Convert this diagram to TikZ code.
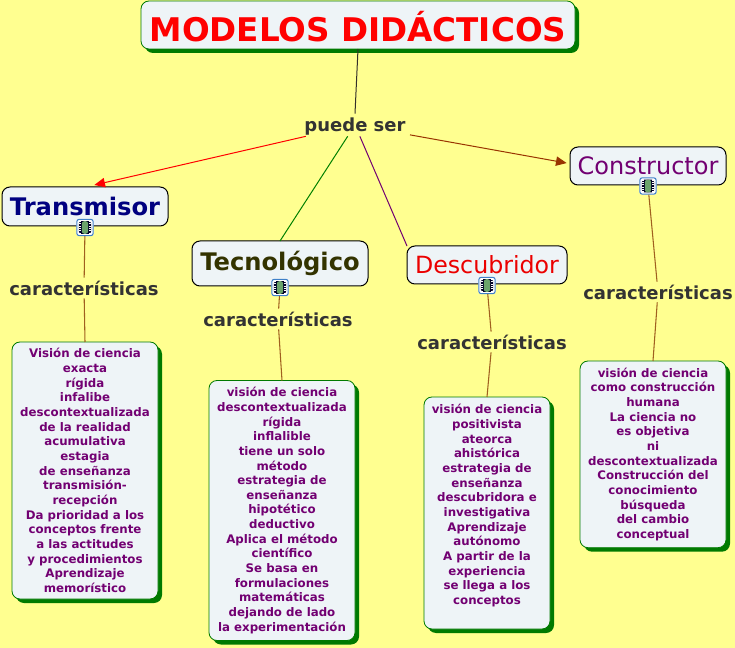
\documentclass[tikz,border=0pt]{standalone}
\usepackage{fontspec}
\setmainfont{DejaVu Sans}
\definecolor{bgc}{HTML}{FFFF90}
\definecolor{boxc}{HTML}{EEF4F7}
\definecolor{shadowg}{HTML}{007A00}
\definecolor{linkb}{HTML}{A0601F}
\definecolor{purp}{HTML}{720072}
\definecolor{lbl}{HTML}{333333}
\definecolor{filmg}{HTML}{6BA56B}
\definecolor{iconb}{HTML}{3F80C8}
\makeatletter
\newcommand{\fpx}[2]{\fontsize{\strip@pt\dimexpr#1pt*3/4\relax}{\strip@pt\dimexpr#2pt*3/4\relax}\selectfont}
\makeatother
\tikzset{
  every node/.style={inner sep=0pt,outer sep=0pt},
  px/.style={x=0.75pt,y=-0.75pt},
  head/.style={draw=black,line width=0.75pt,fill=boxc,rounded corners=6pt,anchor=center,align=center},
  shadowbox/.style={draw=shadowg,line width=0.6pt,fill=boxc,rounded corners=6pt,
     preaction={draw=none,fill=shadowg,rounded corners=6pt,transform canvas={xshift=3pt,yshift=-3pt}}},
  textbox/.style={shadowbox,anchor=north west,align=center,text=purp,font=\bfseries\fpx{11.8}{14.65}},
  linklabel/.style={text=lbl,font=\bfseries\fpx{18}{20},align=center},
  link/.style={line width=0.8pt,color=linkb},
  filmicon/.style={draw=none,minimum width=13pt,minimum height=13pt,rounded corners=2pt,
    fill=white,path picture={
      \fill[black!85!blue] ([xshift=-4.6pt,yshift=-4.8pt]path picture bounding box.center) rectangle ([xshift=4.6pt,yshift=4.8pt]path picture bounding box.center);
      \fill[filmg] ([xshift=-2.4pt,yshift=-4.8pt]path picture bounding box.center) rectangle ([xshift=2.4pt,yshift=4.8pt]path picture bounding box.center);
      \draw[white,line width=1.3pt,dash pattern=on 0.8pt off 1pt] ([xshift=-3.5pt,yshift=-4.8pt]path picture bounding box.center) -- ([xshift=-3.5pt,yshift=4.8pt]path picture bounding box.center);
      \draw[white,line width=1.3pt,dash pattern=on 0.8pt off 1pt] ([xshift=3.5pt,yshift=-4.8pt]path picture bounding box.center) -- ([xshift=3.5pt,yshift=4.8pt]path picture bounding box.center);
      \draw[iconb,line width=1.6pt,rounded corners=2pt] (path picture bounding box.south west) rectangle (path picture bounding box.north east);
    }},
  tip/.style={-{Triangle[length=8pt,width=7pt]}}
}
\usetikzlibrary{arrows.meta}
\begin{document}
\begin{tikzpicture}[px]
\useasboundingbox[fill=bgc] (0,0) rectangle (735,648);
% head boxes
\node[shadowbox,minimum width=325.5pt,minimum height=36pt,anchor=center,text=red,font=\bfseries\fpx{32.6}{38}] (title) at (358,25) {\raisebox{-1.5pt}[\height][\depth]{MODELOS DIDÁCTICOS}};
\node[head,minimum width=124.5pt,minimum height=29.25pt,text=blue!50!black,font=\bfseries\fpx{24.2}{30}] (trans) at (85,206.5) {Transmisor};
\node[head,minimum width=132pt,minimum height=33.75pt,text={rgb,255:red,51;green,51;blue,0},font=\bfseries\fpx{24.2}{30}] (tecno) at (280,263.5) {Tecnológico};
\node[head,minimum width=120pt,minimum height=28.5pt,text=red!92!black,font=\fpx{23.7}{30}] (desc) at (487,265) {Descubridor};
\node[head,minimum width=117pt,minimum height=28.5pt,text=purp,font=\fpx{24}{30}] (constr) at (648,166) {Constructor};
% icons
\node[filmicon] (i1) at (85,227.5) {};
\node[filmicon] (i2) at (280,287.5) {};
\node[filmicon] (i3) at (487,285.5) {};
\node[filmicon] (i4) at (648,186) {};
% labels
\node[linklabel,minimum width=82.5pt,minimum height=17pt] (puede) at (355,125) {\raisebox{-1.5pt}[\height][\depth]{puede ser}};
\node[linklabel,minimum width=112pt,minimum height=15.5pt] (c1) at (84,288) {características};
\node[linklabel,minimum width=112pt,minimum height=15.5pt] (c2) at (278,319) {características};
\node[linklabel,minimum width=112pt,minimum height=15.5pt] (c3) at (492,342) {características};
\node[linklabel,minimum width=112pt,minimum height=15.5pt] (c4) at (658,292) {características};
% text boxes
\node[textbox,minimum width=109.5pt,minimum height=192.75pt] (t1) at (12,342) {Visión de ciencia\\exacta\\rígida\\infalibe\\descontextualizada\\de la realidad\\acumulativa\\estagia\\de enseñanza\\transmisión-\\recepción\\Da prioridad a los\\conceptos frente\\a las actitudes\\y procedimientos\\Aprendizaje\\memorístico};
\node[textbox,minimum width=109.5pt,minimum height=195pt] (t2) at (209,380.5) {visión de ciencia\\descontextualizada\\rígida\\inflalible\\tiene un solo\\método\\estrategia de\\enseñanza\\hipotético\\deductivo\\Aplica el método\\científico\\Se basa en\\formulaciones\\matemáticas\\dejando de lado\\la experimentación};
\node[textbox,minimum width=94.5pt,minimum height=174pt,anchor=north west] (t3) at (424,397) {};
\node[text=purp,font=\bfseries\fpx{11.8}{14.65},align=center,anchor=north] (t3t) at (487,404.5) {visión de ciencia\\positivista\\ateorca\\ahistórica\\estrategia de\\enseñanza\\descubridora e\\investigativa\\Aprendizaje\\autónomo\\A partir de la\\experiencia\\se llega a los\\conceptos};
\node[textbox,minimum width=109.5pt,minimum height=140pt] (t4) at (580,361) {visión de ciencia\\como construcción\\humana\\La ciencia no\\es objetiva\\ni\\descontextualizada\\Construcción del\\conocimiento\\búsqueda\\del cambio\\conceptual};
% connectors
\draw[line width=0.75pt,black!85!olive] (title.south) -- (puede.north);
\draw[line width=0.75pt,red,tip] (puede) -- ([shift={(7pt,1.5pt)}]trans.north);
\draw[line width=0.75pt,green!50!black] (puede) -- (tecno.north);
\draw[line width=0.75pt,purp] (puede) -- (desc.north west);
\draw[line width=0.75pt,color={rgb,255:red,153;green,51;blue,0},tip] (puede) -- ([shift={(-2.5pt,2.2pt)}]constr.west);
\draw[link] (i1) -- (c1); \draw[link] (c1) -- (t1.north);
\draw[link] (i2) -- (c2); \draw[link] (c2) -- (t2.north);
\draw[link] (i3) -- (c3); \draw[link] (c3) -- (t3.north);
\draw[link] (i4) -- (c4); \draw[link] (c4) -- (t4.north);
\end{tikzpicture}
\end{document}
